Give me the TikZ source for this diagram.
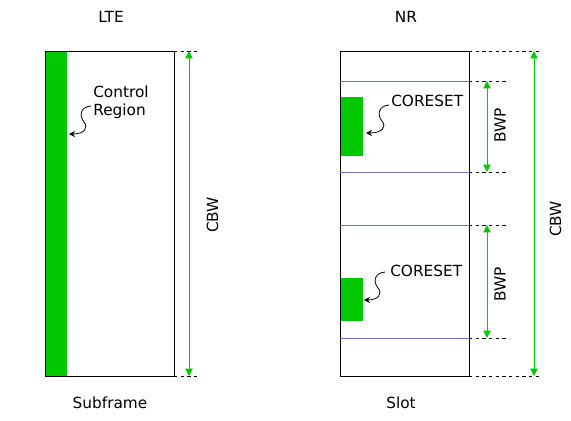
\documentclass[tikz,border=0pt]{standalone}
\usepackage{fontspec}
\setmainfont{DejaVu Sans}
\usetikzlibrary{arrows.meta}
\definecolor{regiongreen}{RGB}{0,200,0}
\definecolor{boundblue}{RGB}{112,112,204}
\begin{document}
\begin{tikzpicture}[x=0.75pt,y=-0.75pt,font=\fontsize{11.5}{13.5}\selectfont]
\tikzstyle{frame}=[draw=black,line width=0.75pt]
\tikzstyle{region}=[fill=regiongreen,inner sep=0pt,anchor=north west]
\tikzstyle{bound}=[draw=boundblue,line width=0.75pt]
\tikzstyle{guide}=[draw=black,line width=0.75pt,dash pattern=on 2.5pt off 2.5pt]
\tikzstyle{span}=[draw=regiongreen,line width=0.75pt,{Triangle[length=5.5pt,width=5.5pt]}-{Triangle[length=5.5pt,width=5.5pt]}]
\tikzstyle{pointer}=[draw=black,line width=0.6pt,-{Stealth[length=4.5pt,width=4.5pt]}]
\useasboundingbox (0,0) rectangle (571,421);
% LTE subframe
\node (lte) at (111,17) {LTE};
\node (subframe) at (110,403) {Subframe};
\node[region,minimum width=16.5pt,minimum height=243.75pt] (ctrl) at (45,51) {};
\draw[frame] (45,51) rectangle (174,376);
\node[anchor=west,inner sep=0pt,align=left] (ctrltext) at (93,102) {Control\\Region};
\coordinate (ctrl from) at (91,106);
\coordinate (ctrl tip) at (69,134);
\draw[pointer] (ctrl from) .. controls (80,107) and (79,116) .. (84,122) .. controls (89,128) and (84,134) .. (ctrl tip);
\coordinate (lte top) at (198,51);
\coordinate (lte bottom) at (198,376);
\draw[guide] (174,51) -- (lte top);
\draw[guide] (174,376) -- (lte bottom);
\draw[span] (189,51) -- (189,376);
\node[rotate=90] (lte cbw) at (212.5,215) {CBW};
% NR slot
\node (nr) at (406,17) {NR};
\node (slot) at (401,403) {Slot};
\node[region,minimum width=17.25pt,minimum height=44.25pt] (coreset a) at (340,97) {};
\node[region,minimum width=17.25pt,minimum height=32.25pt] (coreset b) at (340,278) {};
\draw[frame] (340,51) rectangle (469,376);
\draw[bound] (340,81) -- (469,81);
\draw[bound] (340,172) -- (469,172);
\draw[bound] (340,225) -- (469,225);
\draw[bound] (340,338) -- (469,338);
\node[anchor=west,inner sep=0pt] (coreset a text) at (391,101) {CORESET};
\node[anchor=west,inner sep=0pt] (coreset b text) at (390,271) {CORESET};
\coordinate (coreset a from) at (389,105);
\coordinate (coreset a tip) at (366,133);
\coordinate (coreset b from) at (385,272);
\coordinate (coreset b tip) at (364,300);
\draw[pointer] (coreset a from) .. controls (378,106) and (377,115) .. (382,121) .. controls (387,127) and (382,133) .. (coreset a tip);
\draw[pointer] (coreset b from) .. controls (374,273) and (373,282) .. (378,288) .. controls (383,294) and (378,300) .. (coreset b tip);
\coordinate (bwp a top) at (508,81);
\coordinate (bwp a bottom) at (508,172);
\coordinate (bwp b top) at (508,225);
\coordinate (bwp b bottom) at (508,338);
\coordinate (nr top) at (542,51);
\coordinate (nr bottom) at (542,376);
\draw[guide] (469,81) -- (bwp a top);
\draw[guide] (469,172) -- (bwp a bottom);
\draw[guide] (469,225) -- (bwp b top);
\draw[guide] (469,338) -- (bwp b bottom);
\draw[guide] (469,51) -- (nr top);
\draw[guide] (469,376) -- (nr bottom);
\draw[span] (487,81) -- (487,172);
\draw[span] (487,225) -- (487,338);
\draw[span] (534,51) -- (534,376);
\node[rotate=90] (bwp a) at (500,125) {BWP};
\node[rotate=90] (bwp b) at (500,284) {BWP};
\node[rotate=90] (nr cbw) at (555.5,219) {CBW};
\end{tikzpicture}
\end{document}
